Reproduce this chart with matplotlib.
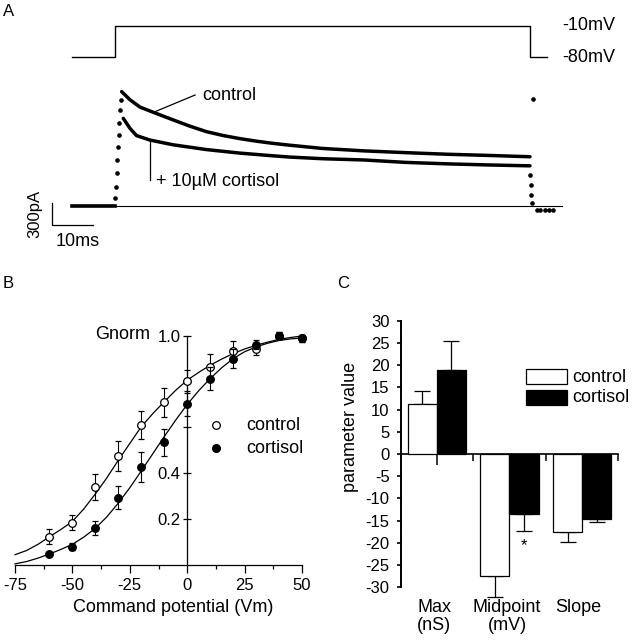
import matplotlib
matplotlib.use("Agg")
import matplotlib.pyplot as plt
from matplotlib.patches import Rectangle
from matplotlib.ticker import MultipleLocator

plt.rcParams['font.family'] = ['Liberation Sans', 'DejaVu Sans']
plt.rcParams['axes.unicode_minus'] = False

# ---- panel A: voltage step and current traces (ms, mV, pA) ----
step_t = [-10.4, 0, 0, 100, 100, 104]
step_mv = [-80, -80, -10, -10, -80, -80]

hold_t = [-10.4, 0]
hold_pA = [0, 0]
base_t = [0, 107.7]
base_pA = [0, 0]

rise_t = [0, 0.25, 0.4, 0.55, 0.65, 0.9, 1.0, 1.2, 1.45]
rise_pA = [110, 265, 450, 630, 810, 970, 1130, 1310, 1445]

control_t = [1.6, 3.6, 6.0, 9.6, 14, 18, 22, 26, 30, 34, 38, 42, 50, 60, 70, 80, 90, 100]
control_pA = [1560, 1450, 1350, 1270, 1175, 1090, 1015, 962, 920, 885, 855, 830,
              785, 752, 728, 706, 690, 672]

cortisol_t = [2.0, 3.6, 5.2, 8.4, 14, 22, 30, 38, 42, 50, 60, 70, 80, 90, 100]
cortisol_pA = [1195, 1060, 960, 900, 835, 770, 722, 685, 668, 645, 628, 595, 575, 560, 548]

tail_t = [100, 100.2, 100.3, 100.4, 100.7, 101.7, 102.5, 103.5, 104.5, 105.5]
tail_pA = [420, 285, 150, 40, 1455, -55, -60, -50, -55, -50]

# ---- panel B: normalised conductance ----
vm = [-60, -50, -40, -30, -20, -10, 0, 10, 20, 30, 40, 50]
g_control = [0.123, 0.184, 0.341, 0.476, 0.61, 0.709, 0.802, 0.864, 0.932, 0.941, 0.999, 0.988]
err_control = [0.033, 0.033, 0.057, 0.064, 0.062, 0.062, 0.05, 0.057, 0.045, 0.025, 0.015, 0.015]
g_cortisol = [0.048, 0.080, 0.163, 0.293, 0.426, 0.535, 0.704, 0.813, 0.90, 0.961, 0.999, 0.988]
err_cortisol = [0.01, 0.015, 0.03, 0.05, 0.065, 0.06, 0.055, 0.05, 0.04, 0.02, 0.015, 0.015]

fit_vm = [-75, -70, -65, -60, -55, -50, -45, -40, -35, -30, -25, -20, -15,
          -10, -5, 0, 5, 10, 15, 20, 25, 30, 35, 40, 45, 50]
fit_control = [0.045, 0.063, 0.09, 0.123, 0.155, 0.19, 0.245, 0.31, 0.38, 0.457, 0.53,
               0.603, 0.66, 0.712, 0.762, 0.806, 0.84, 0.871, 0.898, 0.922, 0.942,
               0.958, 0.972, 0.984, 0.992, 0.999]
fit_cortisol = [0.005, 0.015, 0.03, 0.048, 0.068, 0.09, 0.122, 0.16, 0.21, 0.27, 0.337,
                0.41, 0.485, 0.56, 0.632, 0.70, 0.76, 0.813, 0.86, 0.90, 0.93, 0.951,
                0.967, 0.979, 0.986, 0.99]

# ---- panel C: Boltzmann parameters ----
params = ["Max\n(nS)", "Midpoint\n(mV)", "Slope"]
ctrl_vals = [11.2, -27.5, -17.5]
ctrl_err = [3.0, 4.6, 2.3]
cort_vals = [18.9, -13.5, -14.6]
cort_err = [6.6, 3.8, 0.8]

W, H = 633, 640
fig = plt.figure(figsize=(W / 100, H / 100), dpi=100)


def rect(x0, y0, x1, y1):
    return [x0 / W, 1 - y1 / H, (x1 - x0) / W, (y1 - y0) / H]


def ftext(x, y, s, **kw):
    fig.text(x / W, 1 - y / H, s, **kw)


# pixel scale of panel A
PX_MS = 4.15
T0 = 115
PX_PA = 0.0733
BASE_Y = 206
MV_PX = 70 / 31.0

axV = fig.add_axes(rect(0, 0, W, 70))
axV.set_xlim((0 - T0) / PX_MS, (W - T0) / PX_MS)
axV.set_ylim(-10 - (70 - 26) * MV_PX, -10 + 26 * MV_PX)
axV.axis('off')
axV.plot(step_t, step_mv, color='black', lw=1.0)
axV.text((562 - T0) / PX_MS, -10, "-10mV", fontsize=13, va='center', ha='left')
axV.text((562 - T0) / PX_MS, -80, "-80mV", fontsize=13, va='center', ha='left')

axI = fig.add_axes(rect(0, 70, W, 260))
axI.set_xlim((0 - T0) / PX_MS, (W - T0) / PX_MS)
axI.set_ylim((BASE_Y - 260) / PX_PA, (BASE_Y - 70) / PX_PA)
axI.axis('off')
axI.plot(base_t, base_pA, color='black', lw=0.8)
axI.plot(hold_t, hold_pA, color='black', lw=2.6)
axI.plot(control_t, control_pA, color='black', lw=2.5, solid_capstyle='round')
axI.plot(cortisol_t, cortisol_pA, color='black', lw=2.5, solid_capstyle='round')
axI.plot(rise_t, rise_pA, 'o', color='black', ms=2.3)
axI.plot(tail_t, tail_pA, 'o', color='black', ms=2.3)

# scale bar and annotations
sb_t = (51.7 - T0) / PX_MS
sb_i = (BASE_Y - 225) / PX_PA
axI.plot([sb_t, sb_t, sb_t + 10], [sb_i + 300, sb_i, sb_i], color='black', lw=0.9)
axI.text(sb_t - 4, sb_i + 150, "300pA", rotation=90, fontsize=12, ha='center', va='center')
axI.text(sb_t + 6.2, (BASE_Y - 241.7) / PX_PA, "10ms", fontsize=13, ha='center', va='center')
axI.plot([9.6, 19.3], [1286, 1514], color='black', lw=0.9)
axI.text(21, 1514, "control", fontsize=13, va='center', ha='left')
axI.plot([8.4, 8.4], [900, 355], color='black', lw=0.9)
axI.text(10.0, 331, "+ 10\u00b5M cortisol", fontsize=13, va='center', ha='left')
ftext(3, 12, "A", fontsize=12, va='center', ha='left')

# ---- panel B ----
axB = fig.add_axes(rect(15, 335.7, 302, 565))
axB.set_xlim(-75, 50)
axB.set_ylim(0, 1)
for s in ['top', 'right']:
    axB.spines[s].set_visible(False)
axB.spines['left'].set_position(('data', 0))
axB.spines['left'].set_linewidth(0.9)
axB.spines['bottom'].set_linewidth(0.9)
axB.set_xticks([-75, -50, -25, 0, 25, 50])
axB.xaxis.set_minor_locator(MultipleLocator(12.5))
axB.tick_params(axis='x', which='major', direction='out', length=6, width=0.9, labelsize=12, pad=3)
axB.tick_params(axis='x', which='minor', direction='out', length=3, width=0.9)
axB.set_yticks([0.2, 0.4, 0.6, 0.8, 1.0])
axB.set_yticklabels(['0.2', '0.4', '', '', '1.0'])
axB.tick_params(axis='y', direction='inout', length=6, width=0.9, labelsize=12, pad=2)

axB.plot(fit_vm, fit_control, color='black', lw=0.9, clip_on=False)
axB.plot(fit_vm, fit_cortisol, color='black', lw=0.9, clip_on=False)
axB.errorbar(vm, g_control, yerr=err_control, fmt='o', color='black', mfc='white',
             mec='black', ms=5.5, mew=0.9, elinewidth=0.8, capsize=2.5, capthick=0.8,
             clip_on=False, zorder=3)
axB.errorbar(vm, g_cortisol, yerr=err_cortisol, fmt='o', color='black', mfc='black',
             mec='black', ms=5.5, mew=0.9, elinewidth=0.8, capsize=2.5, capthick=0.8,
             clip_on=False, zorder=4)
axB.plot([12.6], [0.61], 'o', mfc='white', mec='black', ms=5.5, mew=0.9)
axB.plot([12.6], [0.51], 'o', mfc='black', mec='black', ms=5.5)
axB.text(25.7, 0.61, "control", fontsize=13, va='center', ha='left')
axB.text(25.7, 0.51, "cortisol", fontsize=13, va='center', ha='left')
axB.text(-16, 1.005, "Gnorm", fontsize=13, va='center', ha='right')
ftext(173, 607, "Command potential (Vm)", fontsize=13, ha='center', va='center')
ftext(3, 284, "B", fontsize=12, va='center', ha='left')

# ---- panel C ----
axC = fig.add_axes(rect(400.7, 320.7, 618.3, 587.3))
axC.set_xlim(-0.5, 2.5)
axC.set_ylim(-30, 30)
for s in ['top', 'right']:
    axC.spines[s].set_visible(False)
axC.spines['bottom'].set_position(('data', 0))
axC.spines['bottom'].set_linewidth(1.2)
axC.spines['left'].set_linewidth(1.4)
axC.set_yticks(range(-30, 31, 5))
axC.tick_params(axis='y', direction='out', length=3, width=1.2, labelsize=12, pad=5)
axC.set_xticks([0, 1, 2])
axC.set_xticklabels([])
axC.set_xticks([0.5, 1.5, 2.5], minor=True)
axC.tick_params(axis='x', which='major', direction='out', length=8, width=1.1)
axC.tick_params(axis='x', which='minor', direction='out', length=5, width=1.1)

xs = [0, 1, 2]
bw = 0.4
axC.bar([x - bw / 2 for x in xs], ctrl_vals, bw, color='white', edgecolor='black', lw=0.9, zorder=3)
axC.bar([x + bw / 2 for x in xs], cort_vals, bw, color='black', edgecolor='black', lw=0.9, zorder=3)
ctrl_yerr = [[e if v < 0 else 0 for v, e in zip(ctrl_vals, ctrl_err)],
             [e if v > 0 else 0 for v, e in zip(ctrl_vals, ctrl_err)]]
cort_yerr = [[e if v < 0 else 0 for v, e in zip(cort_vals, cort_err)],
             [e if v > 0 else 0 for v, e in zip(cort_vals, cort_err)]]
axC.errorbar([x - bw / 2 for x in xs], ctrl_vals, yerr=ctrl_yerr, fmt='none', ecolor='black',
             elinewidth=0.9, capsize=6, capthick=0.9, clip_on=False, zorder=2)
axC.errorbar([x + bw / 2 for x in xs], cort_vals, yerr=cort_yerr, fmt='none', ecolor='black',
             elinewidth=0.9, capsize=6, capthick=0.9, clip_on=False, zorder=2)
axC.text(1.2, -20.6, "*", fontsize=12, ha='center', va='center')
for x, lab in zip([-0.035, 0.966, 1.945], params):
    axC.text(x, -32.6, lab, fontsize=13, ha='center', va='top', linespacing=1.05, clip_on=False)

ftext(350.5, 427, "parameter value", fontsize=13, rotation=90, ha='center', va='center')
ftext(337, 284, "C", fontsize=12, va='center', ha='left')

# legend of panel C
fig.add_artist(Rectangle((525.7 / W, 1 - 384 / H), 41 / W, 15 / H, transform=fig.transFigure,
                         facecolor='white', edgecolor='black', lw=0.9))
fig.add_artist(Rectangle((525.7 / W, 1 - 405 / H), 41 / W, 15 / H, transform=fig.transFigure,
                         facecolor='black', edgecolor='black', lw=0.9))
ftext(572.7, 377, "control", fontsize=13, va='center', ha='left')
ftext(572.7, 398, "cortisol", fontsize=13, va='center', ha='left')

fig.savefig("out.png", dpi=100)
